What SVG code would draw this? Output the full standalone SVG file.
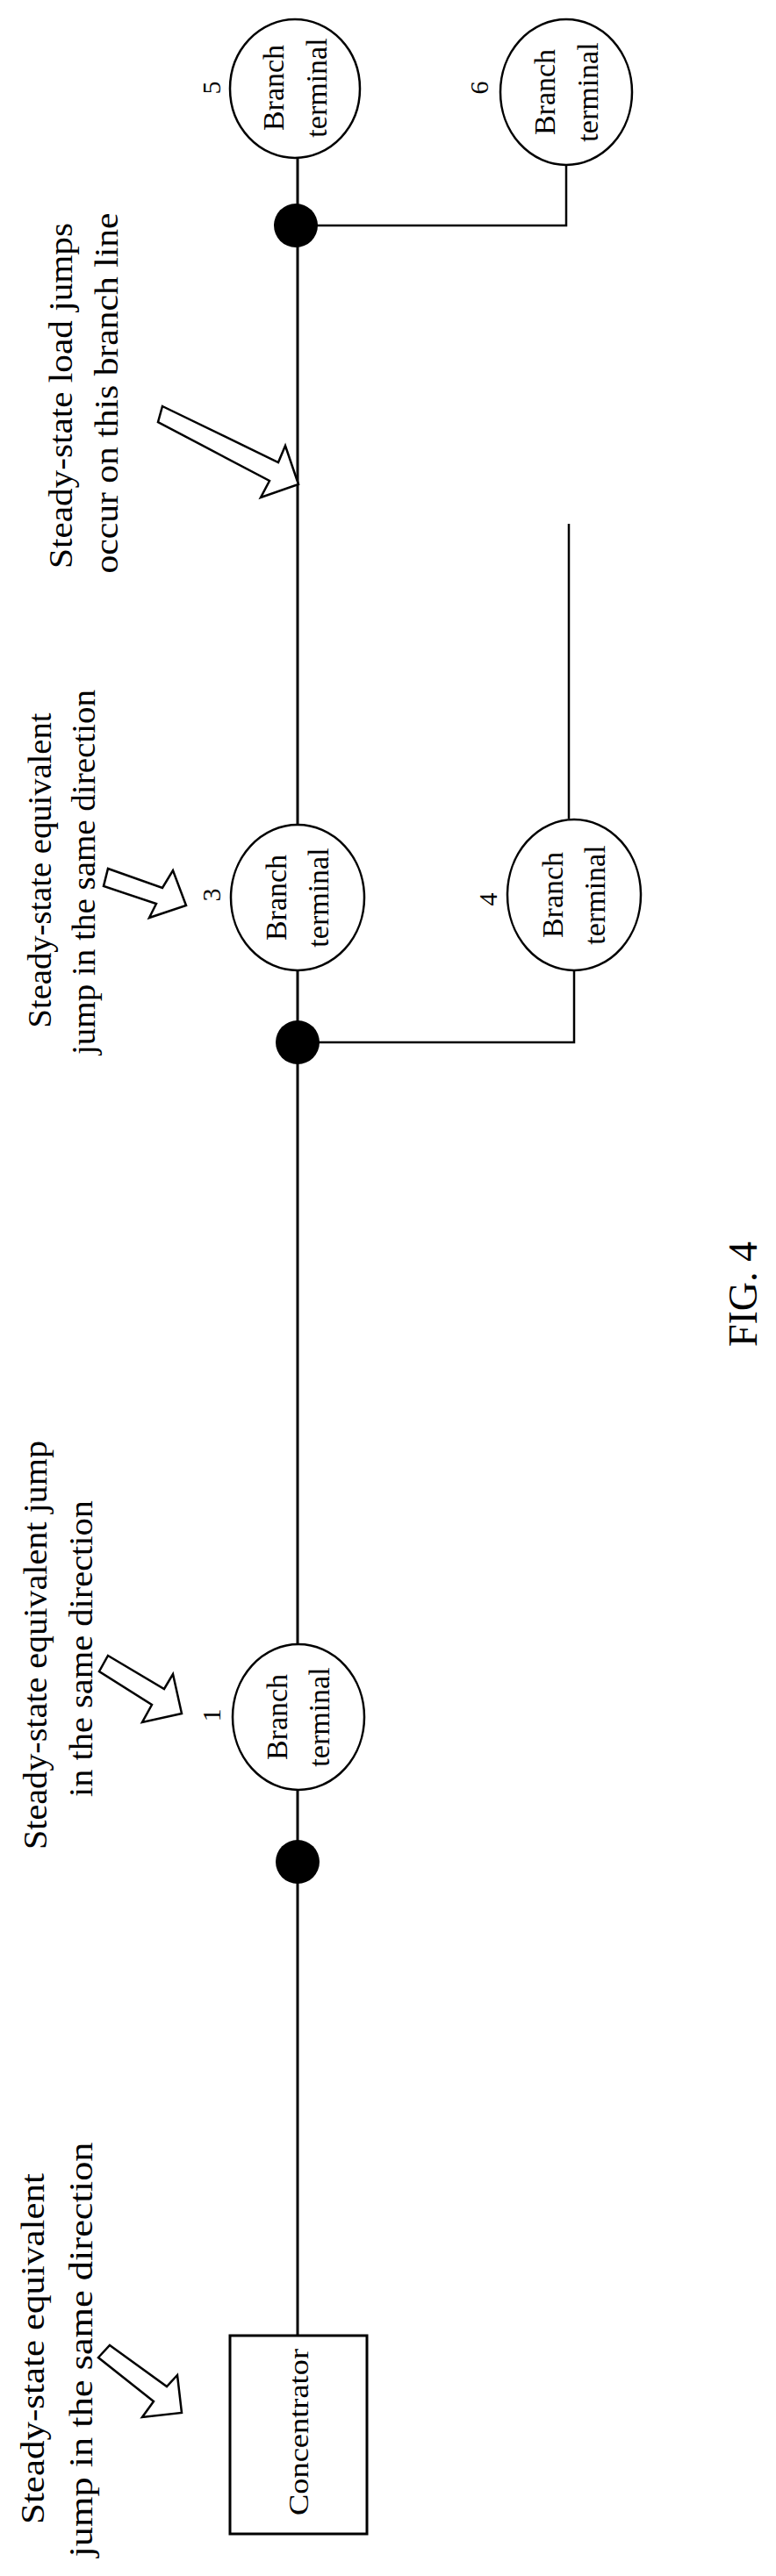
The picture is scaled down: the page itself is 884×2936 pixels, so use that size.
<svg xmlns="http://www.w3.org/2000/svg" width="884" height="2936" viewBox="0 0 884 2936">
<style>
text{font-family:"Liberation Serif","Times New Roman",serif;fill:#000}
.lbl{font-size:38px}
.bt{font-size:34px}
.num{font-size:30px}
.ln{stroke:#000;stroke-width:3;fill:none}
.br{stroke:#000;stroke-width:2.5;fill:none}
.node{fill:#fff;stroke:#000;stroke-width:2.5}
.dot{fill:#000}
.arr{fill:#fff;stroke:#000;stroke-width:2.5;stroke-linejoin:miter}
</style>
<rect width="884" height="2936" fill="#fff"/>
<g id="connectors">
<line class="ln" x1="339" y1="180" x2="339" y2="2662"/>
<polyline class="br" points="339,257 645,257 645,188"/>
<polyline class="br" points="339,1188 654,1188 654,1106"/>
<line class="br" x1="648" y1="597" x2="648" y2="933"/>
</g>
<g id="concentrator">
<rect x="262" y="2662" width="156" height="226" fill="#fff" stroke="#000" stroke-width="3"/>
<text class="bt" transform="translate(351,2772) rotate(-90)" text-anchor="middle" textLength="190" lengthAdjust="spacingAndGlyphs" style="font-size:32px">Concentrator</text>
</g>
<g id="dots">
<circle class="dot" cx="339" cy="2122" r="25"/>
<circle class="dot" cx="339" cy="1188" r="25"/>
<circle class="dot" cx="337" cy="257" r="25"/>
</g>
<g id="node1">
<ellipse class="node" cx="340" cy="1957" rx="75" ry="83"/>
<text class="bt" transform="translate(327,1957) rotate(-90)" text-anchor="middle">Branch</text>
<text class="bt" transform="translate(375,1957) rotate(-90)" text-anchor="middle">terminal</text>
<text class="num" transform="translate(251,1955) rotate(-90)" text-anchor="middle">1</text>
</g>
<g id="node3">
<ellipse class="node" cx="339" cy="1023" rx="76" ry="83"/>
<text class="bt" transform="translate(326,1023) rotate(-90)" text-anchor="middle">Branch</text>
<text class="bt" transform="translate(374,1023) rotate(-90)" text-anchor="middle">terminal</text>
<text class="num" transform="translate(251,1020) rotate(-90)" text-anchor="middle">3</text>
</g>
<g id="node4">
<ellipse class="node" cx="654" cy="1020" rx="76" ry="86"/>
<text class="bt" transform="translate(641,1020) rotate(-90)" text-anchor="middle">Branch</text>
<text class="bt" transform="translate(689,1020) rotate(-90)" text-anchor="middle">terminal</text>
<text class="num" transform="translate(566,1025) rotate(-90)" text-anchor="middle">4</text>
</g>
<g id="node5">
<ellipse class="node" cx="336" cy="101" rx="74" ry="79"/>
<text class="bt" transform="translate(323,100) rotate(-90)" text-anchor="middle">Branch</text>
<text class="bt" transform="translate(372,100) rotate(-90)" text-anchor="middle">terminal</text>
<text class="num" transform="translate(251,100) rotate(-90)" text-anchor="middle">5</text>
</g>
<g id="node6">
<ellipse class="node" cx="645" cy="105" rx="75" ry="83"/>
<text class="bt" transform="translate(632,105) rotate(-90)" text-anchor="middle">Branch</text>
<text class="bt" transform="translate(681,105) rotate(-90)" text-anchor="middle">terminal</text>
<text class="num" transform="translate(556,100) rotate(-90)" text-anchor="middle">6</text>
</g>
<g id="arrows">
<polygon class="arr" points="125,2673 190,2720 202,2707 207,2750 162,2755 175,2737 112,2687"/>
<polygon class="arr" points="123,1887 187,1925 197,1908 207,1953 162,1963 173,1943 113,1905"/>
<polygon class="arr" points="123,990 185,1012 197,992 212,1032 170,1046 178,1030 118,1010"/>
<polygon class="arr" points="185,463 317,527 325,508 340,552 297,567 307,548 180,481"/>
</g>
<g id="labels">
<text class="lbl" transform="translate(50,2677) rotate(-90)" text-anchor="middle" textLength="400" lengthAdjust="spacingAndGlyphs">Steady-state equivalent</text>
<text class="lbl" transform="translate(105,2678) rotate(-90)" text-anchor="middle" textLength="473" lengthAdjust="spacingAndGlyphs">jump in the same direction</text>
<text class="lbl" transform="translate(53,1875) rotate(-90)" text-anchor="middle" textLength="466" lengthAdjust="spacingAndGlyphs">Steady-state equivalent jump</text>
<text class="lbl" transform="translate(105,1879) rotate(-90)" text-anchor="middle" textLength="338" lengthAdjust="spacingAndGlyphs">in the same direction</text>
<text class="lbl" transform="translate(58,992) rotate(-90)" text-anchor="middle" textLength="359" lengthAdjust="spacingAndGlyphs">Steady-state equivalent</text>
<text class="lbl" transform="translate(108,994) rotate(-90)" text-anchor="middle" textLength="416" lengthAdjust="spacingAndGlyphs">jump in the same direction</text>
<text class="lbl" transform="translate(82,451) rotate(-90)" text-anchor="middle" textLength="394" lengthAdjust="spacingAndGlyphs">Steady-state load jumps</text>
<text class="lbl" transform="translate(134,448) rotate(-90)" text-anchor="middle" textLength="411" lengthAdjust="spacingAndGlyphs">occur on this branch line</text>
</g>
<text transform="translate(862,1475) rotate(-90)" text-anchor="middle" style="font-size:46px">FIG. 4</text>
</svg>
